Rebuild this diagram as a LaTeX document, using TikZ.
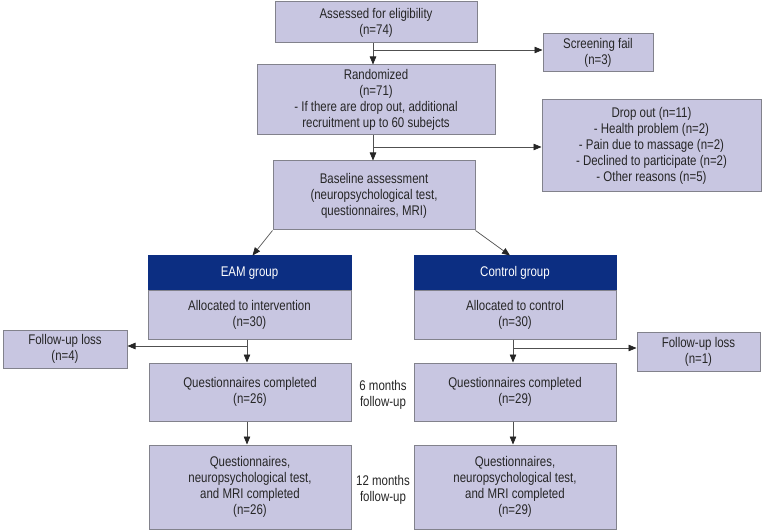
\documentclass[tikz,border=0pt]{standalone}
\usepackage{fontspec}
\setmainfont{Liberation Sans}[FakeStretch=0.82]
\usetikzlibrary{arrows.meta,calc}
\definecolor{boxfill}{RGB}{200,198,225}
\definecolor{boxline}{RGB}{130,130,140}
\definecolor{navy}{RGB}{12,46,130}
\definecolor{arrowc}{RGB}{80,80,80}
\tikzset{
  fbox/.style={draw=boxline, line width=1pt, fill=boxfill, inner sep=0pt, align=center,
    font=\fontsize{14}{16}\selectfont, text=black!85},
  hbox/.style={fbox, fill=navy, draw=navy, text=white},
  conn/.style={draw=arrowc, line width=0.7pt, -{Triangle[length=8pt,width=6.5pt,fill=black!85,color=black!85]}},
  lbl/.style={align=center, inner sep=0pt, font=\fontsize{14}{16}\selectfont, text=black!85}
}
\begin{document}
\begin{tikzpicture}[x=1pt,y=-1pt]
\useasboundingbox[fill=white] (0,0) rectangle (764,532);
\node[fbox, minimum width=202pt, minimum height=41pt] (assess) at (376,22.5) {Assessed for eligibility\\(n=74)};
\node[fbox, minimum width=110pt, minimum height=38pt] (screen) at (598,53) {Screening fail\\(n=3)};
\node[fbox, minimum width=238pt, minimum height=70pt] (rand) at (376,100) {Randomized\\(n=71)\\- If there are drop out, additional\\recruitment up to 60 subejcts};
\node[fbox, minimum width=219pt, minimum height=92pt] (drop) at (651.5,146) {Drop out (n=11)\\- Health problem (n=2)\\- Pain due to massage (n=2)\\- Declined to participate (n=2)\\- Other reasons (n=5)};
\node[fbox, minimum width=202pt, minimum height=69pt] (base) at (374,195.5) {Baseline assessment\\(neuropsychological test,\\questionnaires, MRI)};
\node[hbox, minimum width=203pt, minimum height=34pt] (eamh) at (249.5,273) {EAM group};
\node[fbox, minimum width=203pt, minimum height=49pt] (eamb) at (249.5,314.5) {Allocated to intervention\\(n=30)};
\node[hbox, minimum width=202pt, minimum height=34pt] (ctlh) at (515,273) {Control group};
\node[fbox, minimum width=202pt, minimum height=49pt] (ctlb) at (515,314.5) {Allocated to control\\(n=30)};
\node[fbox, minimum width=124pt, minimum height=38pt] (fulL) at (65,349) {Follow-up loss\\(n=4)};
\node[fbox, minimum width=123pt, minimum height=39pt] (fulR) at (698.5,351.5) {Follow-up loss\\(n=1)};
\node[fbox, minimum width=202pt, minimum height=58pt] (eamq) at (250,392) {Questionnaires completed\\(n=26)};
\node[fbox, minimum width=202pt, minimum height=58pt] (ctlq) at (515,392) {Questionnaires completed\\(n=29)};
\node[fbox, minimum width=202pt, minimum height=84pt] (eamm) at (250,487) {Questionnaires,\\neuropsychological test,\\and MRI completed\\(n=26)};
\node[fbox, minimum width=202pt, minimum height=84pt] (ctlm) at (515,487) {Questionnaires,\\neuropsychological test,\\and MRI completed\\(n=29)};
\node[lbl] (six) at (383,395) {6 months\\follow-up};
\node[lbl] (twelve) at (383,490) {12 months\\follow-up};
% helper coordinates
\coordinate (mx) at (373,0);
\coordinate (lx) at (247,0);
\coordinate (rx) at (513,0);
\coordinate (b1) at (373,50);
\coordinate (b2) at (373,147);
\coordinate (b3) at (247,346);
\coordinate (b4) at (513,348);
% connectors
\draw[conn] (assess.south -| mx) -- (rand.north -| mx);
\draw[conn] (b1) -- (b1 -| screen.west);
\draw[conn] (rand.south -| mx) -- (base.north -| mx);
\draw[conn] (b2) -- (b2 -| drop.west);
\draw[conn] (base.south west) -- ($(eamh.north)+(3,0)$);
\draw[conn] (base.south east) -- ($(ctlh.north)+(-5,0)$);
\draw[conn] (eamb.south -| lx) -- (eamq.north -| lx);
\draw[conn] (b3) -- (b3 -| fulL.east);
\draw[conn] (ctlb.south -| rx) -- (ctlq.north -| rx);
\draw[conn] (b4) -- (b4 -| fulR.west);
\draw[conn] (eamq.south -| lx) -- (eamm.north -| lx);
\draw[conn] (ctlq.south -| rx) -- (ctlm.north -| rx);
\end{tikzpicture}
\end{document}
